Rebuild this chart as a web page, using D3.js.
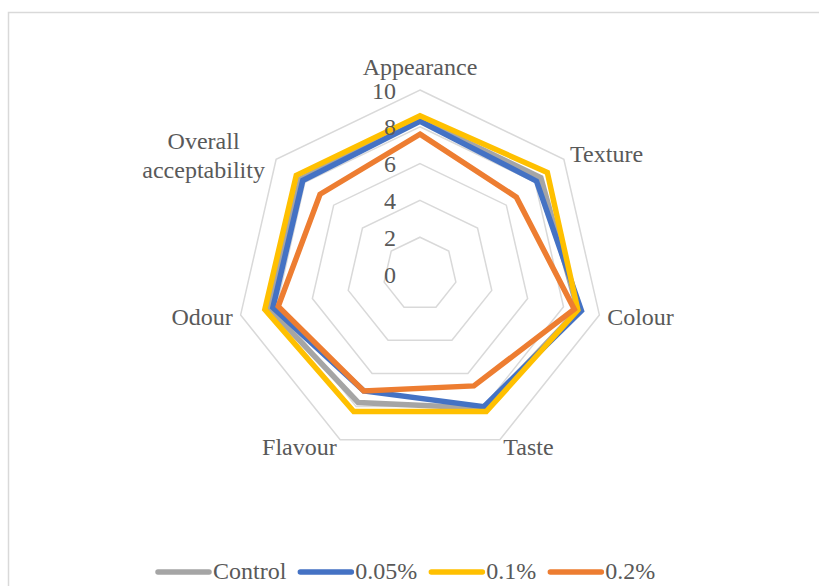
<!DOCTYPE html>
<html><head><meta charset="utf-8">
<script src="https://cdn.jsdelivr.net/npm/d3@7"></script>
<style>body{margin:0;background:#fff}svg{display:block}text{font-family:"Liberation Serif","Times New Roman",serif;fill:#595959}</style>
</head><body><svg id="c" width="819" height="586"></svg>
<script>
const categories = ["Appearance","Texture","Colour","Taste","Flavour","Odour","Overall acceptability"];
const seriesNames = ["Control","0.05%","0.1%","0.2%"];
const control = [8.4, 8.4, 8.8, 8.1, 7.75, 8.4, 8.3];
const p005    = [8.3, 8.1, 9.0, 8.0, 7.05, 8.2, 8.15];
const p01     = [8.6, 8.85, 8.8, 8.3, 8.3, 8.65, 8.6];
const p02     = [7.6, 6.7, 8.6, 6.75, 7.05, 7.9, 6.95];
const tickValues = [0,2,4,6,8,10];
const colors = ["#a5a5a5","#4472c4","#ffc000","#ed7d31"];

const svg = d3.select("#c");
svg.append("rect").attr("x",8.5).attr("y",12.5).attr("width",840).attr("height",620)
  .attr("fill","none").attr("stroke","#d9d9d9").attr("stroke-width",1.5);

const cx = 420, cy = 274, R = 184;
const n = categories.length;
const r = d3.scaleLinear().domain([0,10]).range([0,R]);
const ang = i => i*2*Math.PI/n; // radial angle, 0 = up, clockwise
const g = svg.append("g").attr("transform",`translate(${cx},${cy})`);

// grid rings
const ring = d3.lineRadial().angle((d,i)=>ang(i)).radius(d=>r(d)).curve(d3.curveLinearClosed);
tickValues.filter(t=>t>0).forEach(t=>{
  g.append("path").attr("d", ring(categories.map(()=>t)))
   .attr("fill","none").attr("stroke","#d9d9d9").attr("stroke-width",1.5);
});

// series
const data = [control,p005,p01,p02];
const line = d3.lineRadial().angle((d,i)=>ang(i)).radius(d=>r(d)).curve(d3.curveLinearClosed);
data.forEach((s,k)=>{
  g.append("path").attr("d", line(s)).attr("fill","none")
   .attr("stroke",colors[k]).attr("stroke-width",5.5).attr("stroke-linejoin","miter");
});

// tick labels
tickValues.forEach(t=>{
  g.append("text").attr("x",-24).attr("y",-r(t)+3).attr("text-anchor","end")
   .attr("dominant-baseline","middle").attr("font-size",24).text(t);
});

// category labels
const dy = 2.5;
categories.forEach((c,i)=>{
  const a = ang(i) - Math.PI/2;
  const cs = Math.cos(a), sn = Math.sin(a);
  if (i===0) {
    g.append("text").attr("x",0).attr("y",-R-23+dy).attr("text-anchor","middle")
     .attr("dominant-baseline","middle").attr("font-size",24).text(c);
    return;
  }
  const pad = 8;
  const x = (R+pad)*cs, y = (R+pad)*sn + dy;
  const anchor = cs>0.1 ? "start" : (cs<-0.1 ? "end" : "middle");
  const words = c.split(" ");
  if (words.length>1) {
    const t = g.append("text").attr("font-size",24).attr("text-anchor","middle");
    words.forEach((w,j)=>t.append("tspan").attr("x",0).attr("y",(j-0.5)*29).attr("dominant-baseline","middle").text(w));
    const wmax = d3.max(t.selectAll("tspan").nodes(), nd=>nd.getComputedTextLength());
    t.attr("transform",`translate(${x-5 - wmax/2},${y+1})`);
  } else {
    g.append("text").attr("x",x).attr("y",y).attr("text-anchor",anchor)
     .attr("dominant-baseline","middle").attr("font-size",24).text(c);
  }
});

// legend
const lg = svg.append("g");
let lx = 158; const ly = 572;
seriesNames.forEach((s,k)=>{
  lg.append("line").attr("x1",lx).attr("x2",lx+51).attr("y1",ly).attr("y2",ly)
    .attr("stroke",colors[k]).attr("stroke-width",5.5).attr("stroke-linecap","round");
  const t = lg.append("text").attr("x",lx+55).attr("y",ly+1).attr("dominant-baseline","middle")
    .attr("font-size",24).text(s);
  lx += 55 + t.node().getComputedTextLength() + 14;
});
</script></body></html>
